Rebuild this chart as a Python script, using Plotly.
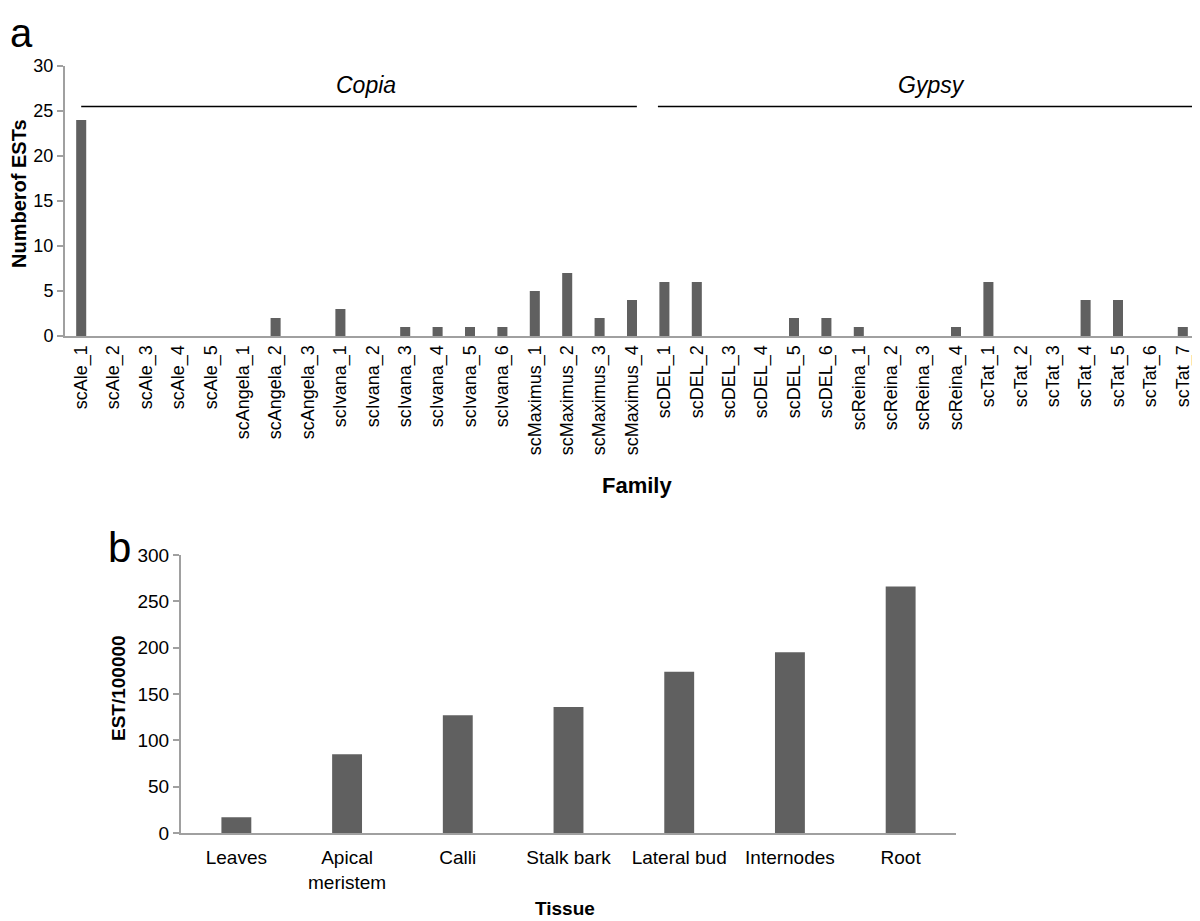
import plotly.graph_objects as go
from plotly.subplots import make_subplots

# panel a: EST counts per retrotransposon family
copia_families = ["scAle_1", "scAle_2", "scAle_3", "scAle_4", "scAle_5",
                  "scAngela_1", "scAngela_2", "scAngela_3",
                  "scIvana_1", "scIvana_2", "scIvana_3", "scIvana_4", "scIvana_5", "scIvana_6",
                  "scMaximus_1", "scMaximus_2", "scMaximus_3", "scMaximus_4"]
copia_counts = [24, 0, 0, 0, 0,
                0, 2, 0,
                3, 0, 1, 1, 1, 1,
                5, 7, 2, 4]
gypsy_families = ["scDEL_1", "scDEL_2", "scDEL_3", "scDEL_4", "scDEL_5", "scDEL_6",
                  "scReina_1", "scReina_2", "scReina_3", "scReina_4",
                  "scTat_1", "scTat_2", "scTat_3", "scTat_4", "scTat_5", "scTat_6", "scTat_7"]
gypsy_counts = [6, 6, 0, 0, 2, 2,
                1, 0, 0, 1,
                6, 0, 0, 4, 4, 0, 1]

# panel b: ESTs per 100000 by tissue
tissues = ["Leaves", "Apical<br>meristem", "Calli", "Stalk bark", "Lateral bud", "Internodes", "Root"]
est_per_100k = [17, 85, 127, 136, 174, 195, 266]

families = copia_families + gypsy_families
counts = copia_counts + gypsy_counts

BAR = "#606060"
AXIS = "#a0a0a0"
FONT = "Liberation Sans, Arial, Helvetica, sans-serif"

# page body has an 8px margin, so the figure is shrunk and shifted by that
OFF = 8
W, H = 1200 - OFF, 921 - OFF


def px(x):
    return (x - OFF) / W


def py(y):
    return 1 - (y - OFF) / H


fig = make_subplots(rows=2, cols=1)
fig.add_trace(go.Bar(x=families, y=counts, marker_color=BAR, width=0.31,
                     marker_line_width=0), row=1, col=1)
fig.add_trace(go.Bar(x=tissues, y=est_per_100k, marker_color=BAR, width=0.27,
                     marker_line_width=0), row=2, col=1)

fig.update_layout(
    width=W, height=H, margin=dict(l=0, r=0, t=0, b=0),
    plot_bgcolor="white", paper_bgcolor="white", showlegend=False,
    font=dict(family=FONT, color="black", size=18),
    xaxis=dict(domain=[px(65), px(1199)], anchor="y", showline=True, linecolor=AXIS,
               linewidth=2, ticks="", tickangle=-90, tickfont=dict(size=18), automargin=False,
               showgrid=False, range=[-0.5, len(families) - 0.5]),
    yaxis=dict(domain=[py(336), py(66)], anchor="x", showline=True, linecolor=AXIS,
               linewidth=2, ticks="outside", tickcolor=AXIS, ticklen=6, tickwidth=1.5,
               automargin=False, range=[0, 30], dtick=5, showgrid=False, zeroline=False,
               tickfont=dict(size=18)),
    xaxis2=dict(domain=[px(181), px(956)], anchor="y2", showline=True, linecolor=AXIS,
                linewidth=2, ticks="", showgrid=False, tickfont=dict(size=19), automargin=False,
                ticklabelstandoff=6, range=[-0.5, len(tissues) - 0.5]),
    yaxis2=dict(domain=[py(833), py(555)], anchor="x2", showline=True, linecolor=AXIS,
                linewidth=2, ticks="outside", tickcolor=AXIS, ticklen=6, tickwidth=1.5,
                automargin=False, range=[0, 300], dtick=50, showgrid=False, zeroline=False,
                tickfont=dict(size=19)),
)

# group brackets over panel a
n_c = len(copia_families)
n_g = len(gypsy_families)
brackets = [("Copia", 0, n_c - 1 + 0.15), ("Gypsy", n_c - 0.2, n_c + n_g - 1 + 0.3)]
for name, x0, x1 in brackets:
    fig.add_shape(type="line", xref="x", yref="y", x0=x0, x1=x1, y0=25.5, y1=25.5,
                  line=dict(color="black", width=1.5))
    fig.add_annotation(xref="x", yref="y", x=(x0 + x1) / 2 + 0.2, y=26.2, text=f"<i>{name}</i>",
                       showarrow=False, yanchor="bottom", font=dict(size=23))

# axis titles and panel letters
ann = [
    dict(x=637, y=485, text="<b>Family</b>", size=22, angle=0),
    dict(x=19, y=194, text="<b>Numberof ESTs</b>", size=20, angle=-90),
    dict(x=565, y=908, text="<b>Tissue</b>", size=19, angle=0),
    dict(x=118, y=688, text="<b>EST/100000</b>", size=19, angle=-90),
    dict(x=21, y=33, text="a", size=40, angle=0),
    dict(x=119, y=547, text="b", size=42, angle=0),
]
for a in ann:
    fig.add_annotation(xref="paper", yref="paper", x=px(a["x"]), y=py(a["y"]),
                       text=a["text"], showarrow=False, textangle=a["angle"],
                       xanchor="center", yanchor="middle", font=dict(size=a["size"]))

fig.write_html("out.html")
